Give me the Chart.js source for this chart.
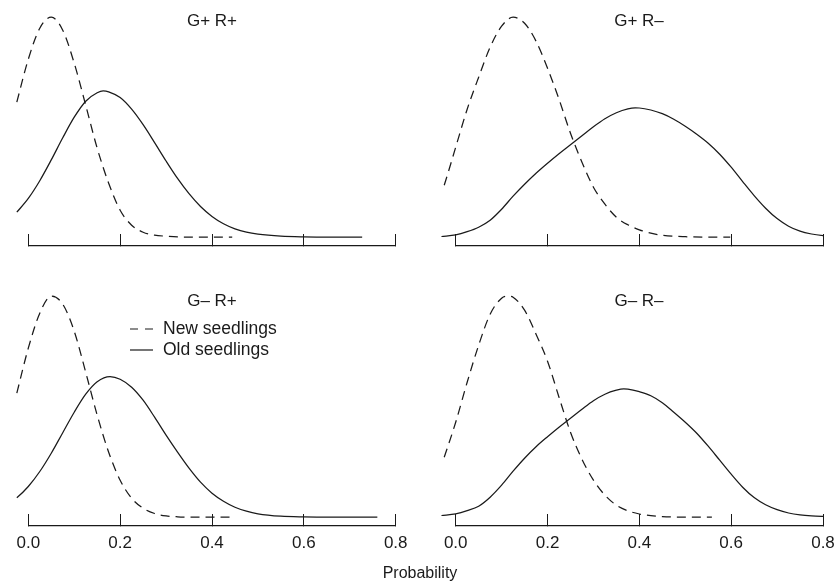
<!DOCTYPE html>
<html>
<head>
<meta charset="utf-8">
<script src="https://cdn.jsdelivr.net/npm/chart.js@4"></script>
<style>
html, body { margin: 0; padding: 0; background: #fff; overflow: hidden; width: 834px; height: 581px; }
#wrap { position: relative; width: 834px; height: 581px; overflow: hidden;
        font-family: "Liberation Sans", Arial, Helvetica, sans-serif; color: #1a1a1a; }
canvas { position: absolute; }
.t { position: absolute; line-height: 1; white-space: nowrap; transform: translate(-50%, -50%); font-size: 17px; }
.l { position: absolute; line-height: 1; white-space: nowrap; transform: translate(0, -50%); font-size: 17.5px; }
svg { position: absolute; overflow: visible; }
</style>
</head>
<body>
<div id="wrap">
  <canvas id="c0" width="417" height="270" style="left:0;top:0"></canvas>
  <canvas id="c1" width="433" height="270" style="left:417px;top:0"></canvas>
  <canvas id="c2" width="432" height="311" style="left:-4px;top:270px"></canvas>
  <canvas id="c3" width="437" height="311" style="left:423px;top:270px"></canvas>

  <div class="t" id="t0" style="left:212px;top:20px"></div>
  <div class="t" id="t1" style="left:639px;top:20px"></div>
  <div class="t" id="t2" style="left:212px;top:300px"></div>
  <div class="t" id="t3" style="left:639px;top:300px"></div>

  <svg width="24" height="2" style="left:130px;top:328px"><line x1="0" y1="1" x2="23" y2="1" stroke="#1a1a1a" stroke-width="1.2" stroke-dasharray="8 7"/></svg>
  <div class="l" id="lg0" style="left:163px;top:329px"></div>
  <svg width="24" height="2" style="left:130px;top:349px"><line x1="0" y1="1" x2="23" y2="1" stroke="#1a1a1a" stroke-width="1.2"/></svg>
  <div class="l" id="lg1" style="left:163px;top:350px"></div>

  <div class="t" id="xt" style="left:420px;top:573px;font-size:16px"></div>
</div>
<script>
// ---------- data ----------
const panelTitles = ["G+ R+", "G+ R\u2013", "G\u2013 R+", "G\u2013 R\u2013"];
const seriesNames = ["New seedlings", "Old seedlings"];
const axisTitle = "Probability";
const tickValues = [0, 0.2, 0.4, 0.6, 0.8];
const tickLabels = ["0.0", "0.2", "0.4", "0.6", "0.8"];

// G+ R+
const newX_GpRp = [-0.033, -0.025, 0, 0.025, 0.05, 0.075, 0.1, 0.125, 0.15, 0.175, 0.2, 0.225, 0.25, 0.275, 0.3, 0.325, 0.35, 0.4, 0.444];
const newY_GpRp = [6.03, 6.75, 8.9, 10.45, 11.0, 10.35, 8.7, 6.6, 4.45, 2.7, 1.35, 0.6, 0.25, 0.1, 0.05, 0.015, 0.005, 0, 0];
const oldX_GpRp = [-0.033, -0.025, 0, 0.025, 0.05, 0.075, 0.1, 0.125, 0.15, 0.163, 0.175, 0.2, 0.225, 0.25, 0.275, 0.3, 0.325, 0.35, 0.375, 0.4, 0.425, 0.45, 0.475, 0.5, 0.55, 0.6, 0.65, 0.727];
const oldY_GpRp = [1.035, 1.25, 1.94, 2.825, 3.865, 4.97, 6.0, 6.8, 7.22, 7.315, 7.27, 6.98, 6.4, 5.625, 4.73, 3.81, 2.94, 2.175, 1.535, 1.04, 0.675, 0.42, 0.25, 0.15, 0.05, 0.015, 0.005, 0];

// G+ R-
const newX_GpRm = [-0.031, -0.025, 0, 0.025, 0.05, 0.075, 0.1, 0.125, 0.15, 0.175, 0.2, 0.225, 0.25, 0.275, 0.3, 0.325, 0.35, 0.375, 0.4, 0.425, 0.45, 0.5, 0.55, 0.598];
const newY_GpRm = [2.2, 2.6, 4.5, 6.4, 8.0, 9.5, 10.55, 11.0, 10.7, 9.8, 8.45, 6.9, 5.2, 3.75, 2.5, 1.65, 1.0, 0.62, 0.37, 0.2, 0.1, 0.025, 0, 0];
const oldX_GpRm = [-0.031, 0, 0.025, 0.05, 0.075, 0.1, 0.125, 0.15, 0.175, 0.2, 0.225, 0.25, 0.275, 0.3, 0.325, 0.35, 0.375, 0.391, 0.4, 0.425, 0.45, 0.475, 0.5, 0.525, 0.55, 0.575, 0.6, 0.625, 0.65, 0.675, 0.7, 0.725, 0.75, 0.775, 0.8, 0.825];
const oldY_GpRm = [0.035, 0.115, 0.275, 0.5, 0.85, 1.4, 2.05, 2.65, 3.2, 3.7, 4.175, 4.625, 5.075, 5.525, 5.925, 6.225, 6.415, 6.465, 6.46, 6.36, 6.175, 5.9, 5.55, 5.15, 4.7, 4.15, 3.5, 2.78, 2.08, 1.45, 0.93, 0.55, 0.3, 0.16, 0.08, 0.035];

// G- R+
const newX_GmRp = [-0.033, -0.025, 0, 0.025, 0.05, 0.075, 0.1, 0.125, 0.15, 0.175, 0.2, 0.225, 0.25, 0.275, 0.3, 0.325, 0.35, 0.4, 0.451];
const newY_GmRp = [5.45, 6.2, 8.45, 10.2, 11.05, 10.65, 9.3, 7.25, 5.1, 3.25, 1.85, 0.95, 0.45, 0.185, 0.065, 0.02, 0.005, 0, 0];
const oldX_GmRp = [-0.033, -0.025, 0, 0.025, 0.05, 0.075, 0.1, 0.125, 0.15, 0.178, 0.2, 0.225, 0.25, 0.275, 0.3, 0.325, 0.35, 0.375, 0.4, 0.425, 0.45, 0.475, 0.5, 0.55, 0.6, 0.65, 0.76];
const oldY_GmRp = [0.835, 0.97, 1.535, 2.285, 3.2, 4.225, 5.25, 6.15, 6.775, 7.035, 6.9, 6.5, 5.85, 5.0, 4.1, 3.25, 2.45, 1.75, 1.2, 0.8, 0.5, 0.3, 0.17, 0.05, 0.015, 0.005, 0];

// G- R-
const newX_GmRm = [-0.031, -0.025, 0, 0.025, 0.05, 0.075, 0.1, 0.115, 0.125, 0.15, 0.175, 0.2, 0.225, 0.25, 0.275, 0.3, 0.325, 0.35, 0.375, 0.4, 0.425, 0.45, 0.5, 0.558];
const newY_GmRm = [2.6, 3.0, 4.75, 6.75, 8.6, 10.15, 10.95, 11.05, 11.0, 10.35, 9.15, 7.8, 6.0, 4.25, 2.9, 1.85, 1.1, 0.6, 0.32, 0.16, 0.075, 0.03, 0.005, 0];
const oldX_GmRm = [-0.031, 0, 0.025, 0.05, 0.075, 0.1, 0.125, 0.15, 0.175, 0.2, 0.225, 0.25, 0.275, 0.3, 0.325, 0.35, 0.366, 0.375, 0.4, 0.425, 0.45, 0.475, 0.5, 0.525, 0.55, 0.575, 0.6, 0.625, 0.65, 0.675, 0.7, 0.725, 0.75, 0.775, 0.8, 0.825];
const oldY_GmRm = [0.085, 0.165, 0.325, 0.55, 1.0, 1.6, 2.3, 2.95, 3.525, 4.025, 4.5, 4.95, 5.4, 5.825, 6.15, 6.35, 6.415, 6.405, 6.275, 6.075, 5.725, 5.25, 4.75, 4.2, 3.55, 2.85, 2.15, 1.5, 0.98, 0.62, 0.375, 0.21, 0.115, 0.065, 0.04, 0.025];

// ---------- drawing ----------
const INK = "#1a1a1a";
const FONT = "'Liberation Sans', Arial, Helvetica, sans-serif";

panelTitles.forEach((t, i) => { document.getElementById("t" + i).textContent = t; });
document.getElementById("lg0").textContent = seriesNames[0];
document.getElementById("lg1").textContent = seriesNames[1];
document.getElementById("xt").textContent = axisTitle;

function pts(xs, ys) { return xs.map((x, i) => ({ x: x, y: ys[i] })); }

function makeChart(id, nx, ny, ox, oy, showLabels, pad) {
  return new Chart(document.getElementById(id), {
    type: "scatter",
    data: {
      datasets: [
        { label: seriesNames[0], data: pts(nx, ny), showLine: true, borderColor: INK, borderWidth: 1.25,
          borderDash: [9, 6], pointRadius: 0, cubicInterpolationMode: "monotone", clip: false, fill: false },
        { label: seriesNames[1], data: pts(ox, oy), showLine: true, borderColor: INK, borderWidth: 1.25,
          pointRadius: 0, cubicInterpolationMode: "monotone", clip: false, fill: false }
      ]
    },
    options: {
      responsive: false, animation: false, events: [],
      layout: { padding: pad },
      plugins: { legend: { display: false }, tooltip: { enabled: false }, title: { display: false } },
      scales: {
        x: {
          type: "linear", position: "bottom", min: 0, max: 0.8,
          afterBuildTicks: s => { s.ticks = tickValues.map(v => ({ value: v })); },
          afterFit: s => { s.height = showLabels ? 30 : 20; },
          grid: { drawOnChartArea: false, drawTicks: true, tickLength: -12, color: INK, lineWidth: 1 },
          border: { display: true, color: INK, width: 1.3 },
          ticks: { display: showLabels, padding: 19, color: INK, maxRotation: 0, autoSkip: false,
                   font: { family: FONT, size: 17 }, callback: (v, i) => tickLabels[i] }
        },
        y: { display: false, min: -0.44, max: 11.56 }
      }
    }
  });
}

makeChart("c0", newX_GpRp, newY_GpRp, oldX_GpRp, oldY_GpRp, false, { left: 28.3, right: 21.3, top: 6, bottom: 4 });
makeChart("c1", newX_GpRm, newY_GpRm, oldX_GpRm, oldY_GpRm, false, { left: 38.7, right: 27, top: 6, bottom: 4 });
makeChart("c2", newX_GmRp, newY_GmRp, oldX_GmRp, oldY_GmRp, true, { left: 32.3, right: 32.3, top: 16, bottom: 25 });
makeChart("c3", newX_GmRm, newY_GmRm, oldX_GmRm, oldY_GmRm, true, { left: 32.7, right: 37, top: 16, bottom: 25 });
</script>
</body>
</html>
